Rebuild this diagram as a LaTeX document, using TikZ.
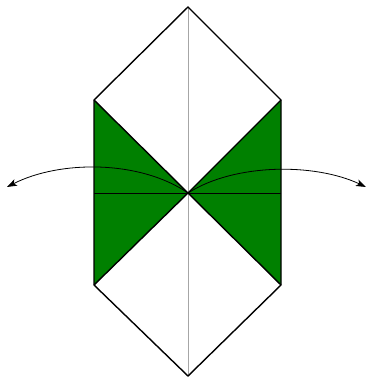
\documentclass[tikz,border=0pt]{standalone}
\usetikzlibrary{arrows.meta}
\definecolor{leaf}{RGB}{0,128,0}
\tikzset{
  edge/.style={draw=black, line width=1.4pt, line join=miter},
  crease/.style={draw=black!35, line width=0.8pt},
  fold/.style={draw=black, line width=1pt},
  move/.style={draw=black, line width=0.8pt, -{Stealth[length=10pt,width=7pt,inset=2.5pt]}}
}
\begin{document}
\begin{tikzpicture}[x=1pt,y=-1pt]
\useasboundingbox (0,0) rectangle (368,377);
\coordinate (T) at (188,7);
\coordinate (B) at (188,376);
\coordinate (LT) at (94,100);
\coordinate (RT) at (281,100);
\coordinate (LB) at (94,285);
\coordinate (RB) at (281,285);
\coordinate (C) at (188,193);
\coordinate (LM) at (94,193);
\coordinate (RM) at (281,193);
\coordinate (LE) at (7,187);
\coordinate (RE) at (366,187);
% green triangles
\fill[leaf] (LT) -- (C) -- (LB) -- cycle;
\fill[leaf] (RT) -- (C) -- (RB) -- cycle;
% vertical crease
\draw[crease] (T) -- (B);
% horizontal fold line
\draw[fold] (LM) -- (RM);
% outline
\draw[edge] (LT) -- (T) -- (RT) -- (RB) -- (B) -- (LB) -- cycle;
\draw[edge] (LT) -- (C) -- (LB);
\draw[edge] (RT) -- (C) -- (RB);
% arrows
\draw[move] (C) .. controls (140,160) and (60,160) .. (LE);
\draw[move] (C) .. controls (235,163) and (315,163) .. (RE);
\end{tikzpicture}
\end{document}
